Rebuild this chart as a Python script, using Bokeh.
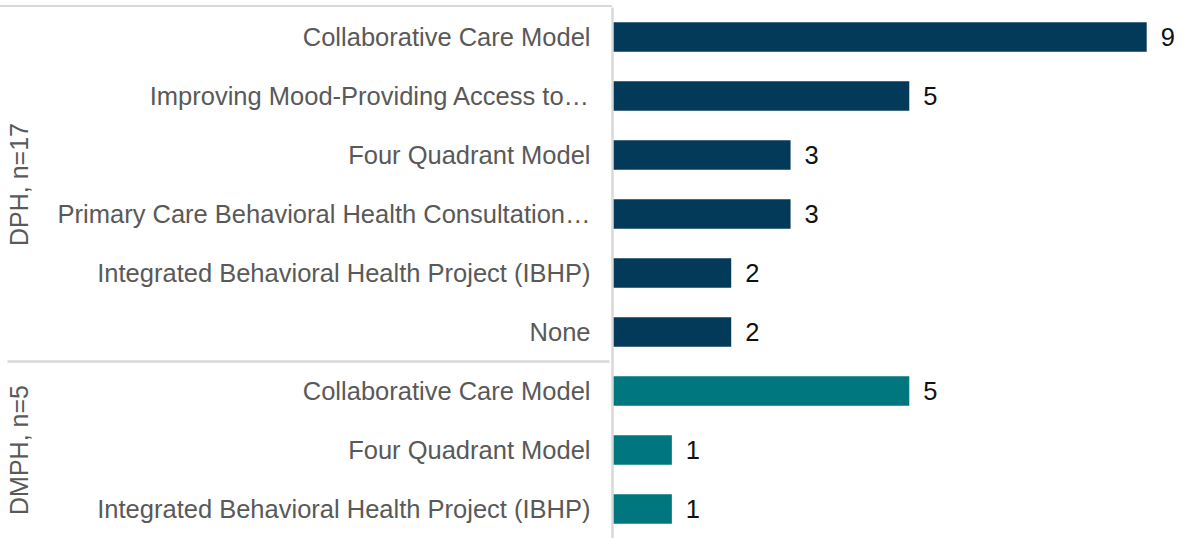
from bokeh.plotting import figure
from bokeh.models import ColumnDataSource, FactorRange, LabelSet, Div
from bokeh.layouts import column
from bokeh.transform import factor_cmap
from bokeh.core.properties import value
from bokeh.embed import file_html
from bokeh.resources import INLINE

groups = ["DPH, n=17"] * 6 + ["DMPH, n=5"] * 3
categories = [
    "Collaborative Care Model",
    "Improving Mood-Providing Access to…",
    "Four Quadrant Model",
    "Primary Care Behavioral Health Consultation…",
    "Integrated Behavioral Health Project (IBHP)",
    "None",
    "Collaborative Care Model",
    "Four Quadrant Model",
    "Integrated Behavioral Health Project (IBHP)",
]
values = [9, 5, 3, 3, 2, 2, 5, 1, 1]
group_names = ["DPH, n=17", "DMPH, n=5"]
group_colors = ["#033A5A", "#00777F"]

factors = list(zip(groups, categories))
src = ColumnDataSource(dict(factors=factors, values=values, groups=groups,
                            labels=[str(v) for v in values]))

FONT = "Liberation Sans"
GRAY = "#d9d9d9"
LEFT = 612

yr = FactorRange(*list(reversed(factors)), group_padding=0, factor_padding=0, range_padding=0)
p = figure(width=1183, height=531, y_range=yr, x_range=(0, 9.62),
           output_backend="svg", toolbar_location=None, x_axis_location=None,
           min_border_left=LEFT, min_border_top=0, min_border_bottom=0, min_border_right=0)
p.outline_line_color = None
p.grid.visible = False

p.hbar(y="factors", right="values", height=0.5, source=src, line_color=None,
       fill_color=factor_cmap("groups", palette=group_colors, factors=group_names))

p.add_layout(LabelSet(x="values", y="factors", text="labels", source=src, x_offset=14,
                      text_baseline="middle", text_font=value(FONT), text_font_size="25.5px",
                      text_color="#111111"))

ax = p.yaxis[0]
ax.axis_line_color = GRAY
ax.axis_line_width = 2.5
ax.major_tick_line_color = None
ax.major_tick_out = 0
ax.major_tick_in = 0
ax.major_label_standoff = 22
ax.major_label_text_font = FONT
ax.major_label_text_font_size = "25.5px"
ax.major_label_text_color = "#595959"
ax.group_text_font = FONT
ax.group_text_font_size = "25px"
ax.group_text_color = "#595959"
ax.group_text_font_style = "normal"
ax.separator_line_color = GRAY
ax.separator_line_width = 2.5

top_rule = Div(text="", width=LEFT, height=2, margin=(5, 0, 0, 0),
               styles={"background-color": GRAY})

layout = column(top_rule, p, spacing=0)
open("out.html", "w").write(file_html(layout, INLINE))
